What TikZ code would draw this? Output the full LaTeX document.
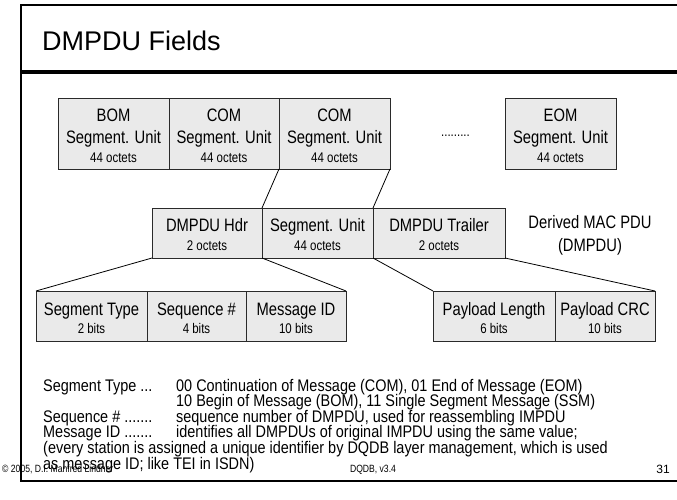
\documentclass[tikz,border=0pt]{standalone}
\usepackage{fontspec}
\setmainfont{Liberation Sans}
\newfontfamily\narrowfont[FakeStretch=0.82]{Liberation Sans}
\newfontfamily\bodyfont[FakeStretch=0.86]{Liberation Sans}
\definecolor{boxfill}{HTML}{EAEAEA}
\definecolor{boxline}{HTML}{2A2A2A}
\begin{document}
\begin{tikzpicture}[x=1pt,y=-1pt,
  cell/.style={rectangle, draw=boxline, fill=boxfill, line width=0.9pt, inner sep=0pt, outer sep=0pt},
  toprow/.style={cell, minimum height=71pt},
  midrow/.style={cell, minimum height=50pt},
  botrow/.style={cell, minimum height=50pt},
  mainlbl/.style={font=\narrowfont\fontsize{18}{18}\selectfont, anchor=base, inner sep=0pt},
  sublbl/.style={font=\narrowfont\fontsize{14}{14}\selectfont, anchor=base, inner sep=0pt},
  bodytxt/.style={font=\bodyfont\fontsize{16.8}{16.8}\selectfont, anchor=base west, inner sep=0pt},
  foot/.style={font=\narrowfont\fontsize{10.5}{10.5}\selectfont, anchor=base, inner sep=0pt},
  conn/.style={draw=black, line width=0.8pt},
  frameline/.style={draw=black, line width=2pt}
]
\useasboundingbox (0,0) rectangle (677,500);
% frame
\draw[frameline] (677,5) -- (20.5,5) -- (20.5,481) -- (677,481);
\draw[draw=black, line width=3.5pt] (20.5,72) -- (677,72);
\node[font=\fontsize{27}{27}\selectfont, anchor=base west, inner sep=0pt] (title) at (42,50.5) {DMPDU Fields};

% top row
\node[toprow, minimum width=111pt] (bom) at (113.5,133.5) {};
\node[toprow, minimum width=110pt] (com1) at (224,133.5) {};
\node[toprow, minimum width=111pt] (com2) at (334.5,133.5) {};
\node[toprow, minimum width=111pt] (eom) at (560.5,133.5) {};
\foreach \nm/\cx/\kind in {bom/113.5/BOM, com1/224/COM, com2/334.5/COM, eom/560.5/EOM}{
  \node[mainlbl] (\nm-a) at (\cx,121.4) {\kind};
  \node[mainlbl] (\nm-b) at (\cx,143.4) {Segment. Unit};
  \node[sublbl] (\nm-c) at (\cx,162) {44 octets};
}
\node[sublbl] (dots) at (455.5,136) {.........};

% middle row
\node[midrow, minimum width=110pt] (hdr) at (207,233) {};
\node[midrow, minimum width=111pt] (seg) at (317.5,233) {};
\node[midrow, minimum width=132pt] (trl) at (439,233) {};
\node[mainlbl] (hdr-a) at (207,231.4) {DMPDU Hdr};
\node[sublbl] (hdr-b) at (207,250) {2 octets};
\node[mainlbl] (seg-a) at (317.5,231.4) {Segment. Unit};
\node[sublbl] (seg-b) at (317.5,250) {44 octets};
\node[mainlbl] (trl-a) at (439,231.4) {DMPDU Trailer};
\node[sublbl] (trl-b) at (439,250) {2 octets};
\node[mainlbl] (der-a) at (590,228) {Derived MAC PDU};
\node[mainlbl] (der-b) at (590,251.5) {(DMPDU)};

% bottom row
\node[botrow, minimum width=111pt] (st) at (91.5,316) {};
\node[botrow, minimum width=99pt] (sq) at (196.5,316) {};
\node[botrow, minimum width=100pt] (mid) at (296,316) {};
\node[botrow, minimum width=122pt] (pl) at (494,316) {};
\node[botrow, minimum width=100pt] (crc) at (605,316) {};
\node[mainlbl] (st-a) at (91.5,315) {Segment Type};
\node[sublbl] (st-b) at (91.5,333.7) {2 bits};
\node[mainlbl] (sq-a) at (196.5,315) {Sequence \#};
\node[sublbl] (sq-b) at (196.5,333.7) {4 bits};
\node[mainlbl] (mid-a) at (296,315) {Message ID};
\node[sublbl] (mid-b) at (296,333.7) {10 bits};
\node[mainlbl] (pl-a) at (494,315) {Payload Length};
\node[sublbl] (pl-b) at (494,333.7) {6 bits};
\node[mainlbl] (crc-a) at (605,315) {Payload CRC};
\node[sublbl] (crc-b) at (605,333.7) {10 bits};

% connectors
\draw[conn] (com2.south west) -- (seg.north west);
\draw[conn] (com2.south east) -- (seg.north east);
\draw[conn] (hdr.south west) -- (st.north west);
\draw[conn] (hdr.south east) -- (mid.north east);
\draw[conn] (trl.south west) -- (pl.north west);
\draw[conn] (trl.south east) -- (crc.north east);

% explanation text
\node[bodytxt] (t1a) at (43,391) {Segment Type ...};
\node[bodytxt] (t1b) at (176,391) {00 Continuation of Message (COM), 01 End of Message (EOM)};
\node[bodytxt] (t2b) at (176,406.6) {10 Begin of Message (BOM), 11 Single Segment Message (SSM)};
\node[bodytxt] (t3a) at (43,422.2) {Sequence \# .......};
\node[bodytxt] (t3b) at (176,422.2) {sequence number of DMPDU, used for reassembling IMPDU};
\node[bodytxt] (t4a) at (43,437.8) {Message ID .......};
\node[bodytxt] (t4b) at (176,437.8) {identifies all DMPDUs of original IMPDU using the same value;};
\node[bodytxt] (t5) at (43,453.4) {(every station is assigned a unique identifier by DQDB layer management, which is used};
\node[bodytxt] (t6) at (43,469) {as message ID; like TEI in ISDN)};

% footer
\node[foot, anchor=base west] (copy) at (2,472) {© 2005, D.I. Manfred Lindner};
\node[foot] (ver) at (373,472) {DQDB, v3.4};
\node[font=\fontsize{12}{12}\selectfont, anchor=base, inner sep=0pt] (pg) at (663,473) {31};
\end{tikzpicture}
\end{document}
